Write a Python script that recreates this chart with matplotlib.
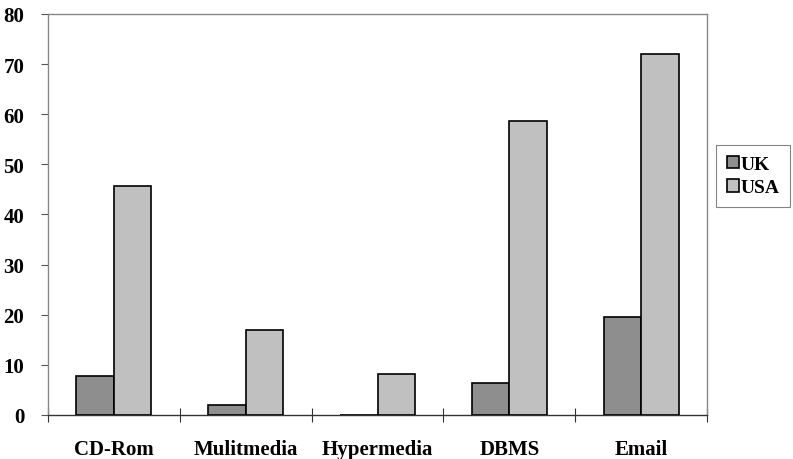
import matplotlib
matplotlib.use("Agg")
import matplotlib.pyplot as plt
import numpy as np

categories = ["CD-Rom", "Mulitmedia", "Hypermedia", "DBMS", "Email"]
uk = [7.8, 1.9, 0.0, 6.4, 19.5]
usa = [45.7, 17.0, 8.2, 58.7, 72.0]
yticks = [0, 10, 20, 30, 40, 50, 60, 70, 80]

plt.rcParams['font.family'] = ['Liberation Serif', 'DejaVu Serif']
plt.rcParams['font.weight'] = 'bold'

fig = plt.figure(figsize=(7.93, 4.60), dpi=100)
ax = fig.add_axes([0.0605, 0.0957, 0.8311, 0.8717])

x = np.arange(len(categories))
w = 0.285
ax.bar(x - w/2, uk, w, color='#8e8e8e', edgecolor='black', linewidth=1.2, label='UK', zorder=3)
ax.bar(x + w/2, usa, w, color='#c0c0c0', edgecolor='black', linewidth=1.2, label='USA', zorder=3)

ax.set_xlim(-0.5, len(categories) - 0.5)
ax.set_ylim(0, 80)
ax.set_yticks(yticks)
ax.set_yticklabels([str(t) for t in yticks], fontsize=15, fontweight='bold')
ax.tick_params(axis='y', direction='out', length=5, width=0.8, color='#555555', pad=12)

ax.set_xticks(np.arange(len(categories) + 1) - 0.5)
ax.set_xticklabels([])
ax.tick_params(axis='x', which='major', direction='inout', length=10, width=0.8, color='#333333')
ax.set_xticks(x, minor=True)
ax.set_xticklabels(categories, minor=True, fontsize=15, fontweight='bold')
ax.tick_params(axis='x', which='minor', length=0, pad=17)

for s in ['top', 'right', 'left']:
    ax.spines[s].set_color('#888888')
    ax.spines[s].set_linewidth(1.0)
ax.spines['bottom'].set_color('#333333')
ax.spines['bottom'].set_linewidth(1.0)

leg = ax.legend(loc='center left', bbox_to_anchor=(1.014, 0.596), borderaxespad=0,
                frameon=True, fancybox=False,
                handlelength=0.6, handleheight=0.6, handletextpad=0.08, borderpad=0.55,
                labelspacing=0.35, prop={'size': 14, 'weight': 'bold'})
leg.get_frame().set_edgecolor('#666666')
leg.get_frame().set_linewidth(0.8)

fig.savefig("out.png", dpi=100)
